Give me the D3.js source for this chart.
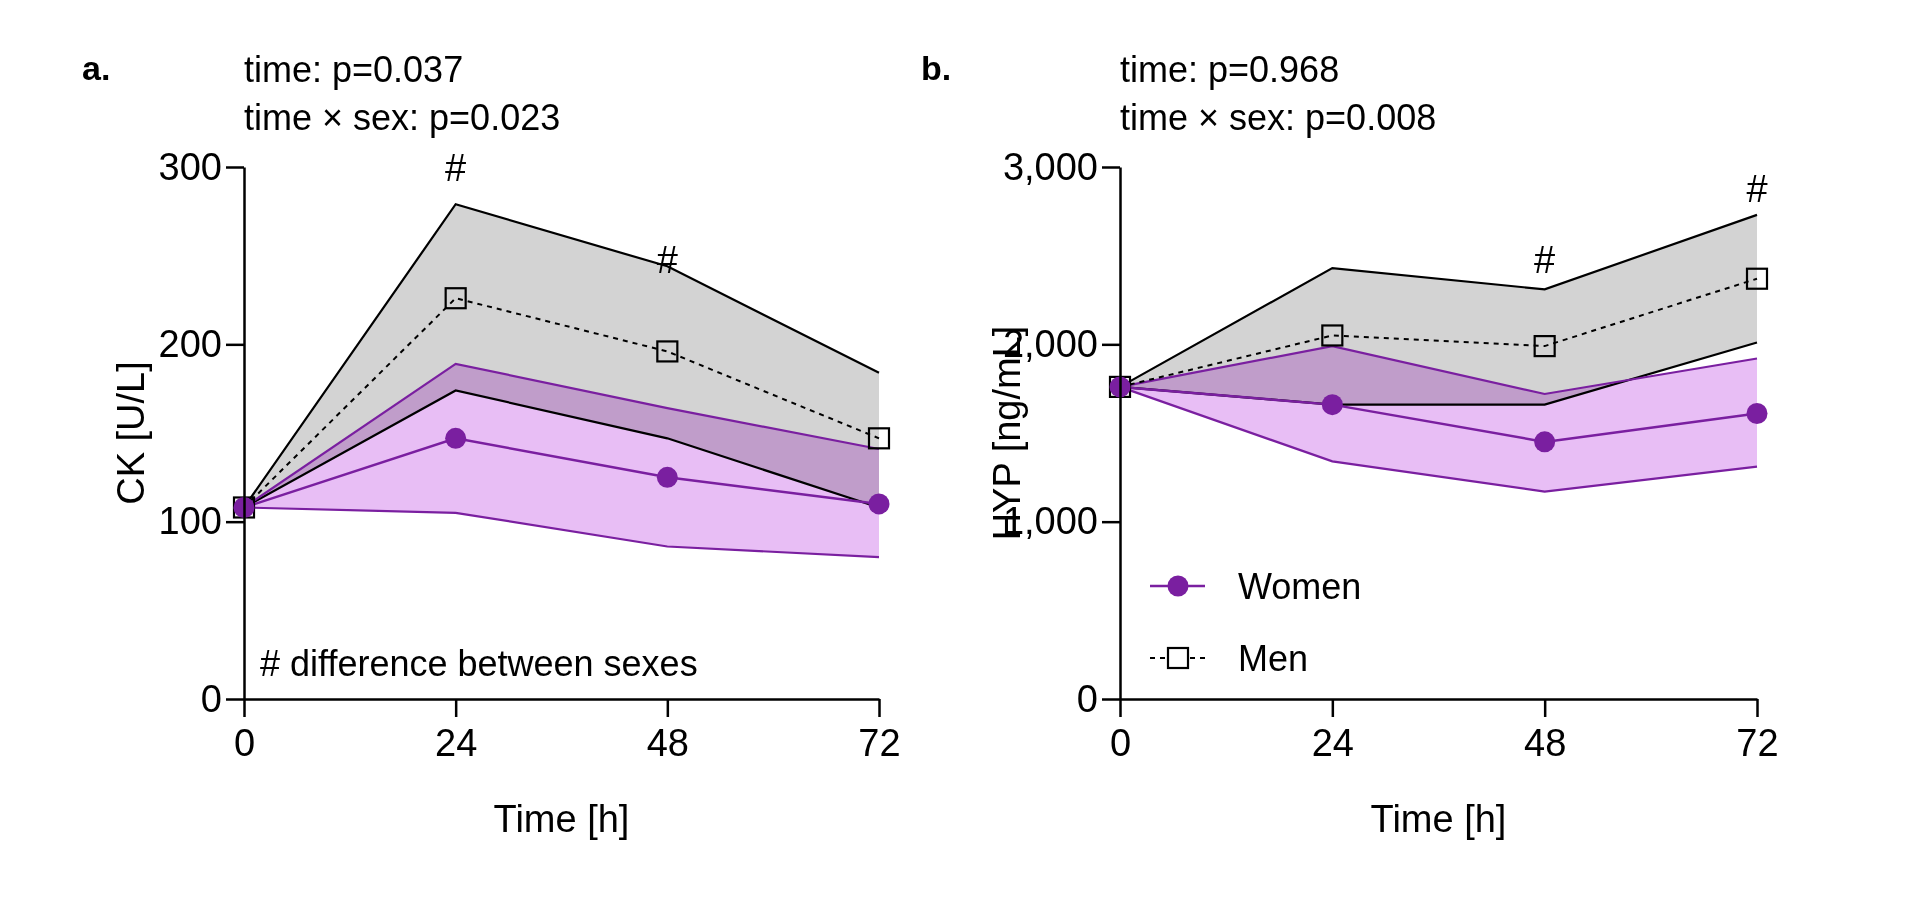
<!DOCTYPE html>
<html><head><meta charset="utf-8">
<script src="https://cdn.jsdelivr.net/npm/d3@7"></script>
<style>body{margin:0;background:#fff;} text{font-family:"Liberation Sans",Arial,sans-serif;fill:#000;}</style>
</head><body><svg id="c" width="1920" height="913"></svg>
<script>
// données
const times = [0, 24, 48, 72];
const ckWomen = [108, 147, 125, 110];
const ckWomenHi = [108, 189, 164, 141];
const ckWomenLo = [108, 105, 86, 80];
const ckMen = [108, 226, 196, 147];
const ckMenHi = [108, 279, 244, 184];
const ckMenLo = [108, 174, 147, 108];
const hypWomen = [1760, 1660, 1450, 1610];
const hypWomenHi = [1760, 1990, 1720, 1920];
const hypWomenLo = [1760, 1340, 1170, 1310];
const hypMen = [1760, 2050, 1990, 2370];
const hypMenHi = [1760, 2430, 2310, 2730];
const hypMenLo = [1760, 1660, 1660, 2010];
const ckTicks = [0, 100, 200, 300];
const hypTicks = [0, 1000, 2000, 3000];

const svg = d3.select("#c");
const purple = "#7a1fa0";

function panel(o) {
  const x = d3.scaleLinear().domain([0, 72]).range([o.x0, o.x1]);
  const y = d3.scaleLinear().domain([0, o.max]).range([699, 167]);
  const g = svg.append("g");

  const band = (hi, lo) => d3.area().x((d, i) => x(times[i])).y0((d, i) => y(lo[i])).y1(d => y(d))(hi);
  const line = v => d3.line().x((d, i) => x(times[i])).y(d => y(d))(v);

  g.append("path").attr("d", band(o.mHi, o.mLo)).attr("fill", "#d3d3d3");
  g.append("path").attr("d", band(o.wHi, o.wLo)).attr("fill", "#e8bef5").style("mix-blend-mode", "multiply");
  [o.mHi, o.mLo].forEach(v => g.append("path").attr("d", line(v)).attr("fill", "none").attr("stroke", "#000").attr("stroke-width", 2.2));
  [o.wHi, o.wLo].forEach(v => g.append("path").attr("d", line(v)).attr("fill", "none").attr("stroke", purple).attr("stroke-width", 2.2));
  g.append("path").attr("d", line(o.w)).attr("fill", "none").attr("stroke", purple).attr("stroke-width", 2.5);
  g.append("path").attr("d", line(o.m)).attr("fill", "none").attr("stroke", "#000").attr("stroke-width", 2).attr("stroke-dasharray", "5,5");
  o.m.forEach((d, i) => g.append("rect").attr("x", x(times[i]) - 10).attr("y", y(d) - 10).attr("width", 20).attr("height", 20)
    .attr("fill", "none").attr("stroke", "#000").attr("stroke-width", 2.2));
  o.w.forEach((d, i) => g.append("circle").attr("cx", x(times[i])).attr("cy", y(d)).attr("r", 10.5).attr("fill", purple));

  const ax = g.append("g").attr("transform", "translate(0,699)")
    .call(d3.axisBottom(x).tickValues(times).tickSize(18).tickSizeOuter(0).tickPadding(12));
  ax.selectAll("text").attr("font-size", 38);
  const ay = g.append("g").attr("transform", `translate(${o.x0},0)`)
    .call(d3.axisLeft(y).tickValues(o.ticks).tickSize(18).tickSizeOuter(0).tickPadding(4));
  ay.selectAll("text").attr("font-size", 38);
  g.selectAll(".domain, .tick line").attr("stroke", "#000").attr("stroke-width", 2.5);

  g.append("text").attr("x", (o.x0 + o.x1) / 2).attr("y", 832).attr("text-anchor", "middle").attr("font-size", 38).text("Time [h]");
  g.append("text").attr("transform", `translate(${o.x0 - 100},${y(o.max * 0.5)}) rotate(-90)`).attr("text-anchor", "middle")
    .attr("font-size", 38).text(o.ylab);
  g.append("text").attr("x", o.lx).attr("y", 80).attr("font-size", 34).attr("font-weight", "bold").text(o.letter);
  g.append("text").attr("x", o.x0).attr("y", 82).attr("font-size", 36).text(o.p1);
  g.append("text").attr("x", o.x0).attr("y", 130).attr("font-size", 36).text(o.p2);
  o.hash.forEach(h => g.append("text").attr("x", x(h[0])).attr("y", y(h[1])).attr("text-anchor", "middle").attr("font-size", 38).text("#"));
  return {x, y, g};
}

const a = panel({x0: 244, x1: 879, max: 300, ticks: ckTicks, w: ckWomen, wHi: ckWomenHi, wLo: ckWomenLo,
  m: ckMen, mHi: ckMenHi, mLo: ckMenLo, ylab: "CK [U/L]", letter: "a.", lx: 82,
  p1: "time: p=0.037", p2: "time × sex: p=0.023", hash: [[24, 292], [48, 240]]});
a.g.append("text").attr("x", 260).attr("y", 676).attr("font-size", 36).text("# difference between sexes");

const b = panel({x0: 1120, x1: 1757, max: 3000, ticks: hypTicks, w: hypWomen, wHi: hypWomenHi, wLo: hypWomenLo,
  m: hypMen, mHi: hypMenHi, mLo: hypMenLo, ylab: "HYP [ng/mL]", letter: "b.", lx: 921,
  p1: "time: p=0.968", p2: "time × sex: p=0.008", hash: [[48, 2400], [72, 2800]]});

// légende
const lg = b.g.append("g");
lg.append("line").attr("x1", 1150).attr("x2", 1205).attr("y1", 586).attr("y2", 586).attr("stroke", purple).attr("stroke-width", 2.5);
lg.append("circle").attr("cx", 1178).attr("cy", 586).attr("r", 10.5).attr("fill", purple);
lg.append("text").attr("x", 1238).attr("y", 599).attr("font-size", 36).text("Women");
lg.append("line").attr("x1", 1150).attr("x2", 1205).attr("y1", 658).attr("y2", 658).attr("stroke", "#000").attr("stroke-width", 2).attr("stroke-dasharray", "5,5");
lg.append("rect").attr("x", 1168).attr("y", 648).attr("width", 20).attr("height", 20).attr("fill", "#fff").attr("stroke", "#000").attr("stroke-width", 2.2);
lg.append("text").attr("x", 1238).attr("y", 671).attr("font-size", 36).text("Men");
</script></body></html>
